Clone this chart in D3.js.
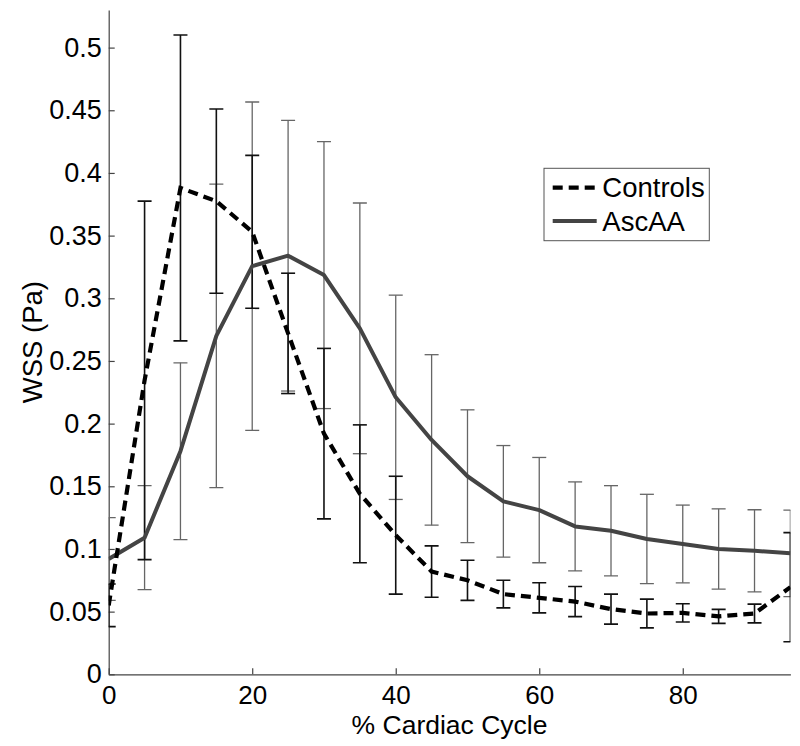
<!DOCTYPE html>
<html>
<head>
<meta charset="utf-8">
<script src="https://cdn.jsdelivr.net/npm/d3@7"></script>
<style>
  html, body { margin: 0; padding: 0; background: #fff; }
  svg { display: block; font-family: "Liberation Sans", Arial, Helvetica, sans-serif; }
</style>
</head>
<body>
<svg id="chart" width="800" height="746"></svg>
<script>
// ---- Data ----
const cycle = [0, 5, 10, 15, 20, 25, 30, 35, 40, 45, 50, 55, 60, 65, 70, 75, 80, 85, 90, 95];
const controlsMean = [0.055, 0.2345, 0.388, 0.3775, 0.353, 0.272, 0.192, 0.144, 0.111, 0.082, 0.075, 0.064, 0.061, 0.058, 0.052, 0.0485, 0.049, 0.0462, 0.0485, 0.0695];
const controlsErr  = [0.017, 0.143, 0.122, 0.0735, 0.061, 0.048, 0.068, 0.055, 0.047, 0.0205, 0.016, 0.011, 0.012, 0.012, 0.012, 0.0115, 0.0073, 0.0056, 0.0075, 0.0435];
const ascaaMean = [0.092, 0.109, 0.178, 0.27, 0.3256, 0.334, 0.3185, 0.276, 0.221, 0.187, 0.158, 0.138, 0.131, 0.118, 0.1145, 0.108, 0.104, 0.100, 0.0985, 0.0965];
const ascaaErr  = [0.033, 0.0415, 0.0705, 0.121, 0.131, 0.108, 0.1065, 0.1, 0.0815, 0.068, 0.053, 0.0445, 0.042, 0.0355, 0.036, 0.0356, 0.031, 0.032, 0.0328, 0.0345];
const xTicks = [0, 20, 40, 60, 80];
const yTicks = [0, 0.05, 0.1, 0.15, 0.2, 0.25, 0.3, 0.35, 0.4, 0.45, 0.5];
const seriesNames = ["Controls", "AscAA"];
const xLabel = "% Cardiac Cycle";
const yLabel = "WSS (Pa)";

// ---- Layout ----
const W = 800, H = 746;
const margin = { left: 108.7, right: 9.6, top: 10, bottom: 71.7 };
const iw = W - margin.left - margin.right;
const ih = H - margin.top - margin.bottom;

const svg = d3.select("#chart");
const g = svg.append("g").attr("transform", `translate(${margin.left},${margin.top})`);

const x = d3.scaleLinear().domain([0, 95]).range([0, iw]);
const y = d3.scaleLinear().domain([0, 0.53]).range([ih, 0]);

svg.append("defs").append("clipPath").attr("id", "clip")
  .append("rect").attr("x", 0).attr("y", 0).attr("width", iw).attr("height", ih);

const fmt = d => String(+d.toFixed(2));
const axisColor = "#444";
const fontSize = 27.5;
const tickFont = 27;

// Axes (ticks pointing inward like MATLAB)
const xAxis = g.append("g").attr("transform", `translate(0,${ih})`)
  .call(d3.axisBottom(x).tickValues(xTicks).tickFormat(fmt).tickSizeInner(-6).tickSizeOuter(0));
const yAxis = g.append("g")
  .call(d3.axisLeft(y).tickValues(yTicks).tickFormat(fmt).tickSizeInner(-6).tickSizeOuter(0).tickPadding(7));
[xAxis, yAxis].forEach(a => {
  a.select(".domain").attr("stroke", axisColor).attr("stroke-width", 1.2);
  a.selectAll(".tick line").attr("stroke", axisColor).attr("stroke-width", 1.2);
  a.selectAll(".tick text").attr("fill", "#000").style("font-size", tickFont + "px")
    .style("font-family", '"Liberation Sans", Arial, sans-serif');
});
xAxis.selectAll(".tick text").attr("y", 30).attr("dy", "0").style("font-size", "26px");

// Axis titles
g.append("text").attr("x", iw / 2).attr("y", ih + 59.5).attr("text-anchor", "middle")
  .style("font-size", "26.5px").attr("fill", "#000").text(xLabel);
g.append("text").attr("transform", `translate(${41.7 - margin.left},${ih / 2}) rotate(-90)`)
  .attr("text-anchor", "middle").style("font-size", fontSize + "px").attr("fill", "#000").text(yLabel);

const plot = g.append("g").attr("clip-path", "url(#clip)");
const capHalf = 7;

function errorBars(means, errs, color, width) {
  const eb = plot.append("g").attr("stroke", color).attr("stroke-width", width).attr("fill", "none");
  cycle.forEach((c, i) => {
    const cx = x(c), y0 = y(means[i] - errs[i]), y1 = y(means[i] + errs[i]);
    eb.append("line").attr("x1", cx).attr("x2", cx).attr("y1", y0).attr("y2", y1);
    eb.append("line").attr("x1", cx - capHalf).attr("x2", cx + capHalf).attr("y1", y0).attr("y2", y0);
    eb.append("line").attr("x1", cx - capHalf).attr("x2", cx + capHalf).attr("y1", y1).attr("y2", y1);
  });
}

const line = d3.line().x((d, i) => x(cycle[i])).y(d => y(d));

// AscAA (solid gray)
errorBars(ascaaMean, ascaaErr, "#666", 1.3);
// Controls (dashed black)
errorBars(controlsMean, controlsErr, "#111", 1.6);

plot.append("path").datum(ascaaMean).attr("d", line)
  .attr("fill", "none").attr("stroke", "#444").attr("stroke-width", 4).attr("stroke-linejoin", "round");
plot.append("path").datum(controlsMean).attr("d", line)
  .attr("fill", "none").attr("stroke", "#000").attr("stroke-width", 4.2).attr("stroke-dasharray", "10,6");

// Legend
const lg = svg.append("g");
lg.append("rect").attr("x", 544).attr("y", 168.3).attr("width", 165.3).attr("height", 72.4)
  .attr("fill", "#fff").attr("stroke", "#555").attr("stroke-width", 1);
const legendRows = [
  { name: seriesNames[0], y: 187.7, stroke: "#000", dash: "10,6", w: 4.2 },
  { name: seriesNames[1], y: 221, stroke: "#444", dash: null, w: 4 }
];
legendRows.forEach(r => {
  lg.append("line").attr("x1", 552.7).attr("x2", 596.7).attr("y1", r.y).attr("y2", r.y)
    .attr("stroke", r.stroke).attr("stroke-width", r.w).attr("stroke-dasharray", r.dash);
  lg.append("text").attr("x", 602.3).attr("y", r.y).attr("dy", "0.35em")
    .style("font-size", fontSize + "px").attr("fill", "#000").text(r.name);
});
</script>
</body>
</html>
